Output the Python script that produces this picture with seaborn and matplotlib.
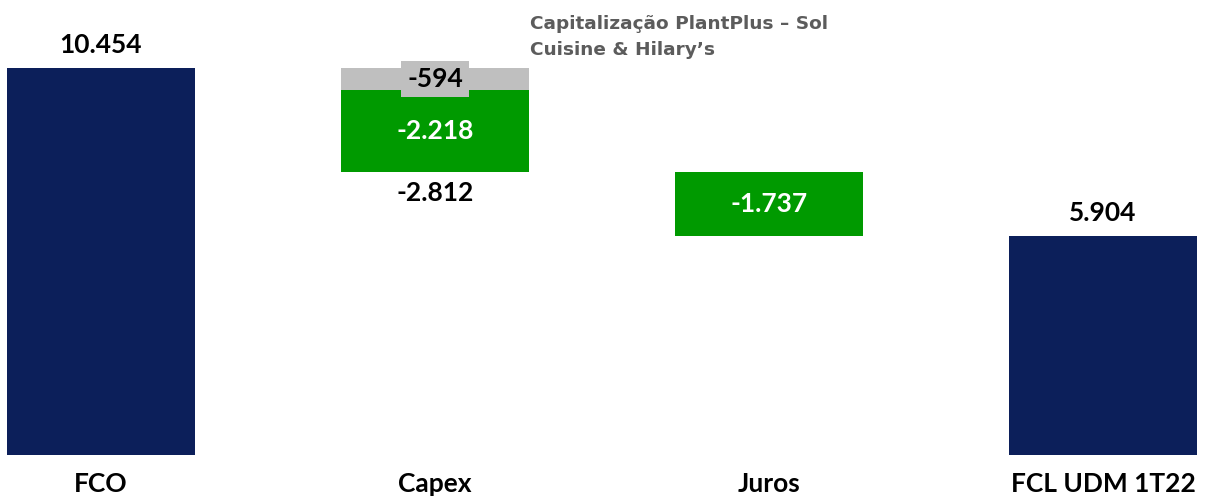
import matplotlib
matplotlib.use("Agg")
import matplotlib.pyplot as plt
import seaborn as sns
import pandas as pd
import numpy as np

categories = ["FCO", "Capex", "Juros", "FCL UDM 1T22"]
start_value = 10454
capitalizacao = -594
capex_other = -2218
capex_total = -2812
juros = -1737
end_value = 5904
value_labels = ["10.454", "-594", "-2.218", "-2.812", "-1.737", "5.904"]
note_text = "Capitalização PlantPlus – Sol\nCuisine & Hilary’s"

NAVY = "#0c1f5a"
GREEN = "#009a00"
GREY = "#bfbfbf"

sns.set_theme(style="white")
plt.rcParams["font.family"] = ["Lato", "DejaVu Sans"]

fig = plt.figure(figsize=(12.21, 5.01), dpi=100)
ax = fig.add_axes([0, (501 - 455) / 501, 1, 455 / 501])

# series
totals = [start_value, 0, 0, end_value]
grey_h = [0, capitalizacao, 0, 0]
grey_b = [0, start_value, 0, 0]
after_cap = start_value + capitalizacao
after_capex = after_cap + capex_other
green_h = [0, capex_other, juros, 0]
green_b = [0, after_cap, after_capex, 0]

df = pd.DataFrame({"cat": categories, "tot": totals, "gh": grey_h, "gr": green_h})
w = 0.563
common = dict(width=w, saturation=1, ax=ax, linewidth=0, edgecolor="none")
sns.barplot(data=df, x="cat", y="tot", color=NAVY, **common)
sns.barplot(data=df, x="cat", y="gh", color=GREY, bottom=np.array(grey_b), **common)
sns.barplot(data=df, x="cat", y="gr", color=GREEN, bottom=np.array(green_b), **common)

ax.set_xlim(-0.302, 3.353)
ax.set_ylim(0, 12290)
for s in ax.spines.values():
    s.set_visible(False)
ax.set_yticks([])
ax.set_xlabel("")
ax.set_ylabel("")
ax.tick_params(axis="x", length=0, pad=12, labelsize=19)
for t in ax.get_xticklabels():
    t.set_fontweight("bold")
    t.set_color("black")

fs = 19
ax.text(0, start_value + 300, value_labels[0], ha="center", va="bottom", fontsize=fs, fontweight="bold", color="black")
ax.text(1, start_value + capitalizacao / 2, value_labels[1], ha="center", va="center", fontsize=fs, fontweight="bold", color="black",
        bbox=dict(boxstyle="square,pad=0.22", fc=GREY, ec="none"))
ax.text(1, after_cap + capex_other / 2, value_labels[2], ha="center", va="center", fontsize=fs, fontweight="bold", color="white")
ax.text(1, after_capex - 250, value_labels[3], ha="center", va="top", fontsize=fs, fontweight="bold", color="black")
ax.text(2, after_capex + juros / 2, value_labels[4], ha="center", va="center", fontsize=fs, fontweight="bold", color="white")
ax.text(3, end_value + 300, value_labels[5], ha="center", va="bottom", fontsize=fs, fontweight="bold", color="black")

ax.text(1.285, 12290 - 400, note_text, ha="left", va="top", fontsize=13.3, fontweight="bold",
        family=["DejaVu Sans"], color="#5c5c5c", linespacing=1.6)

fig.savefig("out.png", dpi=100)
